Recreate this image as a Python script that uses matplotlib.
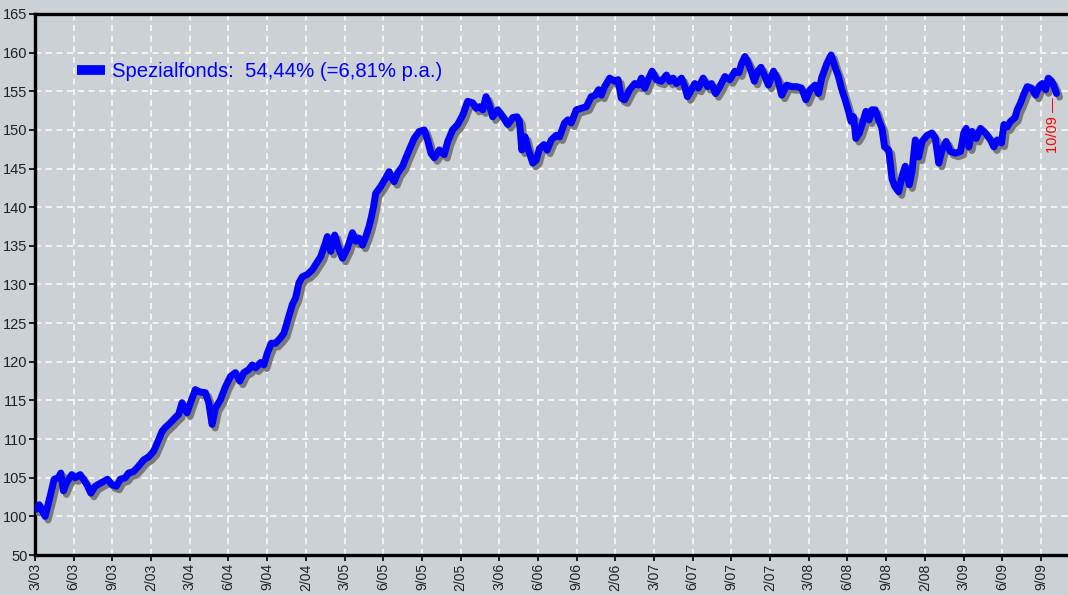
import matplotlib
matplotlib.use('Agg')
import matplotlib.pyplot as plt
import matplotlib.patheffects as pe
from matplotlib.lines import Line2D

# months since 3/03 and fund index value
months = [0.08, 0.33, 0.78, 1.17, 1.48, 1.81, 2.00, 2.20, 2.46, 2.85, 3.11, 3.50, 3.75,
          4.02, 4.33, 4.66, 5.18, 5.62, 5.96, 6.30, 6.61, 6.99, 7.25, 7.64, 8.03, 8.42,
          8.81, 9.19, 9.58, 9.85, 10.10, 10.49, 10.88, 11.14, 11.40, 11.58, 11.79, 12.05,
          12.43, 12.77, 13.21, 13.47, 13.73, 13.99, 14.38, 14.77, 15.16, 15.54, 15.88,
          16.19, 16.58, 16.84, 17.10, 17.49, 17.74, 18.01, 18.32, 18.65, 19.04, 19.30,
          19.61, 19.95, 20.21, 20.46, 20.73, 21.12, 21.50, 21.84, 22.15, 22.46, 22.67,
          22.93, 23.24, 23.49, 23.84, 24.22, 24.61, 24.87, 25.13, 25.39, 25.65, 25.90,
          26.09, 26.25, 26.42, 26.81, 27.20, 27.46, 27.59, 27.85, 28.11, 28.50, 28.76,
          29.01, 29.40, 29.79, 30.18, 30.44, 30.70, 30.96, 31.35, 31.73, 32.00, 32.38,
          32.77, 33.16, 33.55, 33.94, 34.20, 34.45, 34.72, 34.97, 35.23, 35.49, 35.88,
          36.27, 36.66, 37.05, 37.38, 37.56, 37.75, 38.00, 38.26, 38.60, 38.86, 39.12,
          39.46, 39.71, 40.03, 40.41, 40.67, 41.06, 41.32, 41.58, 41.97, 42.36, 42.75,
          43.13, 43.44, 43.70, 43.91, 44.17, 44.56, 44.94, 45.21, 45.46, 45.72, 46.11,
          46.50, 46.81, 47.02, 47.28, 47.54, 47.85, 48.19, 48.57, 48.96, 49.22, 49.48,
          49.74, 50.13, 50.38, 50.59, 50.90, 51.16, 51.43, 51.81, 52.15, 52.46, 52.77,
          53.10, 53.49, 53.88, 54.27, 54.58, 54.79, 55.05, 55.31, 55.57, 55.78, 56.04,
          56.29, 56.60, 56.87, 57.26, 57.59, 57.90, 58.29, 58.68, 59.07, 59.45, 59.77,
          60.10, 60.49, 60.75, 61.01, 61.40, 61.73, 62.04, 62.30, 62.56, 62.82, 63.08,
          63.28, 63.47, 63.65, 63.91, 64.17, 64.43, 64.68, 64.89, 65.15, 65.42, 65.67,
          65.88, 66.19, 66.32, 66.45, 66.66, 66.97, 67.23, 67.48, 67.79, 68.00, 68.26,
          68.52, 68.78, 69.17, 69.56, 69.81, 70.08, 70.33, 70.65, 70.98, 71.37, 71.76,
          72.02, 72.20, 72.41, 72.67, 72.98, 73.31, 73.70, 74.09, 74.35, 74.61, 74.94,
          75.13, 75.39, 75.64, 75.99, 76.16, 76.42, 76.69, 76.94, 77.28, 77.59, 77.85,
          78.10, 78.36, 78.57, 78.83, 79.02, 79.21]
values = [100.9, 101.5, 100.0, 102.6, 104.8, 105.0, 105.6, 103.3, 104.4, 105.4, 105.0,
          105.4, 104.8, 104.1, 103.0, 103.9, 104.4, 104.8, 104.1, 103.9, 104.8, 105.0,
          105.6, 105.8, 106.5, 107.3, 107.7, 108.4, 109.9, 111.0, 111.5, 112.1, 112.8,
          113.2, 114.7, 114.0, 113.4, 114.7, 116.4, 116.1, 116.0, 114.7, 111.9, 114.0,
          115.1, 116.8, 118.1, 118.6, 117.5, 118.6, 119.0, 119.6, 119.2, 119.9, 119.6,
          121.1, 122.4, 122.4, 123.1, 123.7, 125.5, 127.4, 128.3, 130.2, 131.0, 131.3,
          131.9, 132.8, 133.6, 135.1, 136.2, 134.3, 136.4, 134.9, 133.4, 134.7, 136.7,
          135.6, 136.0, 135.1, 136.2, 137.5, 138.8, 140.1, 141.8, 142.7, 143.8, 144.6,
          144.0, 143.3, 144.4, 145.3, 146.4, 147.4, 148.9, 149.8, 150.0, 148.7, 147.0,
          146.4, 147.4, 146.8, 148.5, 150.0, 150.7, 151.9, 153.7, 153.5, 152.8, 153.0,
          152.6, 154.3, 153.2, 151.7, 152.6, 151.7, 150.7, 151.6, 151.7, 151.1, 147.4,
          149.1, 147.4, 145.7, 146.1, 147.6, 148.1, 147.4, 148.7, 149.3, 149.1, 150.9,
          151.3, 150.9, 152.6, 152.8, 153.0, 154.3, 154.5, 155.2, 154.5, 155.6, 156.7,
          156.3, 156.5, 154.1, 153.9, 155.2, 156.0, 155.8, 156.7, 155.4, 156.5, 157.6,
          156.5, 156.3, 157.1, 156.3, 156.7, 156.0, 156.7, 155.6, 154.3, 155.2, 156.0,
          155.4, 156.7, 155.6, 156.0, 154.7, 155.6, 156.9, 156.5, 157.6, 157.4, 158.6,
          159.5, 158.6, 157.4, 156.3, 157.6, 158.1, 156.9, 155.8, 157.6, 156.5, 154.5,
          155.8, 155.6, 155.6, 155.4, 153.9, 155.2, 155.8, 154.7, 156.8, 158.6, 159.7,
          158.1, 156.9, 155.2, 153.9, 152.4, 151.1, 151.7, 148.9, 149.6, 150.9, 152.4,
          151.3, 152.6, 152.6, 151.3, 150.2, 147.8, 147.4, 145.7, 143.7, 142.7, 142.0,
          144.0, 145.3, 142.9, 144.6, 148.7, 146.5, 148.5, 149.3, 149.6, 148.9, 145.7,
          147.4, 148.5, 147.2, 147.0, 147.2, 149.6, 150.2, 147.8, 149.8, 148.9, 150.2,
          149.6, 148.7, 147.8, 148.7, 148.3, 150.7, 150.4, 151.1, 151.6, 152.6, 153.5,
          154.7, 155.6, 155.4, 154.5, 155.6, 156.0, 155.2, 156.7, 156.3, 155.6, 154.7]

x_labels = ['3/03', '6/03', '9/03', '2/03', '3/04', '6/04', '9/04', '2/04', '3/05',
            '6/05', '9/05', '2/05', '3/06', '6/06', '9/06', '2/06', '3/07', '6/07',
            '9/07', '2/07', '3/08', '6/08', '9/08', '2/08', '3/09', '6/09', '9/09']
y_ticks = [95, 100, 105, 110, 115, 120, 125, 130, 135, 140, 145, 150, 155, 160, 165]
y_labels = ['50'] + [str(v) for v in y_ticks[1:]]
legend_text = 'Spezialfonds:  54,44% (=6,81% p.a.)'
end_label = '10/09 —'

bg = '#cbd1d4'
tick_font = 'Liberation Sans'

fig = plt.figure(figsize=(10.68, 5.95), dpi=100, facecolor=bg)
ax = fig.add_axes([0.0328, 0.0672, 0.9672, 0.9093], facecolor=bg)

ax.plot(months, values, color='#0000ff', lw=5, solid_joinstyle='round',
        solid_capstyle='round',
        path_effects=[pe.SimpleLineShadow(offset=(2.2, -2.6), shadow_color='#7a7a7a', alpha=1),
                      pe.Normal()], zorder=3)

ax.set_xlim(0, 80.1)
ax.set_ylim(95, 165)
ax.set_xticks(range(0, 79, 3))
ax.set_xticklabels(x_labels, rotation=90, va='top', family=tick_font, fontsize=10)
ax.set_yticks(y_ticks)
ax.set_yticklabels(y_labels, family=tick_font, fontsize=10.5)
ax.tick_params(axis='both', direction='out', length=4, width=1.2, color='black',
               labelcolor='#222222', pad=1.5)
ax.tick_params(axis='x', pad=2)

ax.grid(True, color='white', linestyle=(0, (4, 3)), lw=1.1, zorder=1)
ax.set_axisbelow(True)

for s in ['left', 'bottom', 'top']:
    ax.spines[s].set_linewidth(2.4)
    ax.spines[s].set_color('black')
ax.spines['right'].set_visible(False)

handle = Line2D([], [], color='#0000ff', lw=7, solid_capstyle='butt')
ax.legend([handle], [legend_text], loc='center left', bbox_to_anchor=(0.041, 0.893),
          frameon=False, labelcolor='#0000ff', handlelength=1.35,
          handletextpad=0.35, borderpad=0, borderaxespad=0,
          prop={'family': 'Liberation Sans', 'size': 14.6})

ax.text(78.9, 150.6, end_label, rotation=90, color='red', ha='center', va='center',
        family=tick_font, fontsize=10.5)

fig.savefig('out.png', dpi=100, facecolor=bg)
